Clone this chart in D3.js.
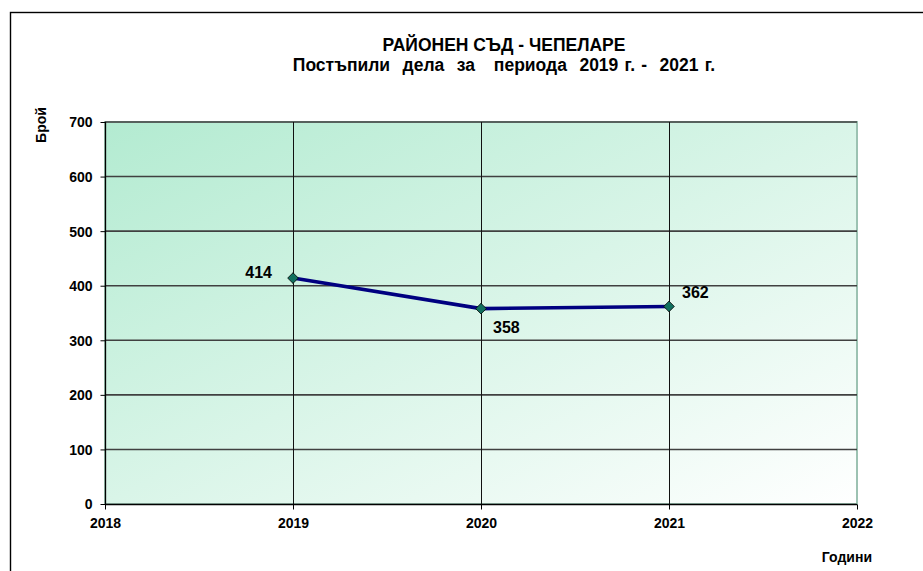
<!DOCTYPE html>
<html lang="bg">
<head>
<meta charset="utf-8">
<style>
  body { margin: 0; background: #fff; }
  svg text { font-family: "Liberation Sans", Arial, sans-serif; font-weight: bold; fill: #000; }
</style>
</head>
<body>
<svg id="chart" width="923" height="571"></svg>
<script src="https://d3js.org/d3.v7.min.js"></script>
<script>
// data
var years = [2019, 2020, 2021];
var cases = [414, 358, 362];
var xTicks = [2018, 2019, 2020, 2021, 2022];
var yTicks = [0, 100, 200, 300, 400, 500, 600, 700];
var titleLines = ["РАЙОНЕН СЪД - ЧЕПЕЛАРЕ", "Постъпили  дела  за   периода  2019 г. -  2021 г."];

var svg = d3.select("#chart");
var pLeft = 105, pRight = 857, pTop = 122, pBottom = 504;

var x = d3.scaleLinear().domain([2018, 2022]).range([pLeft, pRight]);
var y = d3.scaleLinear().domain([0, 700]).range([pBottom, pTop]);

// outer frame (runs off the right and bottom edge)
svg.append("rect").attr("x", 10.5).attr("y", 12.5).attr("width", 940).attr("height", 600)
    .attr("fill", "none").attr("stroke", "#000").attr("stroke-width", 1.4);

// plot background gradient
var grad = svg.append("defs").append("linearGradient").attr("id", "bg")
    .attr("x1", "0").attr("y1", "0").attr("x2", "1").attr("y2", "1");
grad.append("stop").attr("offset", "0%").attr("stop-color", "#b3ebd1");
grad.append("stop").attr("offset", "100%").attr("stop-color", "#ffffff");

svg.append("rect").attr("x", pLeft).attr("y", pTop)
    .attr("width", pRight - pLeft).attr("height", pBottom - pTop)
    .attr("fill", "url(#bg)").attr("stroke", "#9cc2b2").attr("stroke-width", 2);

// grid lines
svg.append("g").selectAll("line").data(yTicks.filter(function(d) { return d > 0; })).enter()
    .append("line")
    .attr("x1", pLeft).attr("x2", pRight)
    .attr("y1", function(d) { return y(d); }).attr("y2", function(d) { return y(d); })
    .attr("stroke", "#404040").attr("stroke-width", 1.6);

svg.append("g").selectAll("line").data([2019, 2020, 2021]).enter()
    .append("line")
    .attr("y1", pTop).attr("y2", pBottom)
    .attr("x1", function(d) { return x(d) + 0.5; }).attr("x2", function(d) { return x(d) + 0.5; })
    .attr("stroke", "#111").attr("stroke-width", 1);

// axes
var yAxis = svg.append("g").attr("transform", "translate(" + (pLeft + 0.5) + ",0)")
    .call(d3.axisLeft(y).tickValues(yTicks).tickSize(5).tickPadding(8));
var xAxis = svg.append("g").attr("transform", "translate(0," + (pBottom + 0.5) + ")")
    .call(d3.axisBottom(x).tickValues(xTicks).tickFormat(d3.format("d")).tickSize(5));

[yAxis, xAxis].forEach(function(a) {
  a.select(".domain").attr("stroke", "#000").attr("stroke-width", 1.3);
  a.selectAll(".tick line").attr("stroke", "#000");
  a.selectAll(".tick text").style("font-family", "'Liberation Sans', Arial, sans-serif")
      .style("font-weight", "bold").style("font-size", "14px").attr("fill", "#000");
});
yAxis.select(".domain").attr("d", "M0," + pTop + "V" + pBottom);
xAxis.select(".domain").attr("d", "M" + pLeft + ",0H" + pRight);
yAxis.selectAll(".tick text").attr("dy", "0.35em");
xAxis.selectAll(".tick text").attr("y", 23).attr("dy", null);

// line
var pts = years.map(function(d, i) { return [d, cases[i]]; });
svg.append("path").datum(pts)
    .attr("d", d3.line().x(function(d) { return x(d[0]); }).y(function(d) { return y(d[1]); }))
    .attr("fill", "none").attr("stroke", "#000080").attr("stroke-width", 3.6);

svg.append("g").selectAll("path").data(pts).enter()
    .append("path")
    .attr("d", d3.symbol().type(d3.symbolDiamond2).size(72))
    .attr("transform", function(d) { return "translate(" + x(d[0]) + "," + y(d[1]) + ")"; })
    .attr("fill", "#11705f").attr("stroke", "#000").attr("stroke-width", 0.8);

// value labels: [dx, dy, anchor]
var labelPos = [[-21, 0, "end"], [12, 24, "start"], [13, -8, "start"]];
svg.append("g").selectAll("text").data(pts).enter()
    .append("text")
    .attr("x", function(d, i) { return x(d[0]) + labelPos[i][0]; })
    .attr("y", function(d, i) { return y(d[1]) + labelPos[i][1]; })
    .attr("text-anchor", function(d, i) { return labelPos[i][2]; })
    .attr("font-size", "16px")
    .text(function(d) { return d[1]; });

// titles
svg.append("g").selectAll("text").data(titleLines).enter()
    .append("text")
    .attr("x", 504).attr("y", function(d, i) { return 51 + i * 20; })
    .attr("text-anchor", "middle").attr("font-size", "17.5px")
    .attr("word-spacing", function(d, i) { return i ? 1.4 : 0; })
    .style("white-space", "pre")
    .text(function(d) { return d; });

svg.append("text").attr("transform", "translate(46,125) rotate(-90)")
    .attr("text-anchor", "middle").attr("font-size", "14px").text("Брой");
svg.append("text").attr("x", 872).attr("y", 562)
    .attr("text-anchor", "end").attr("font-size", "14px").text("Години");
</script>
</body>
</html>
